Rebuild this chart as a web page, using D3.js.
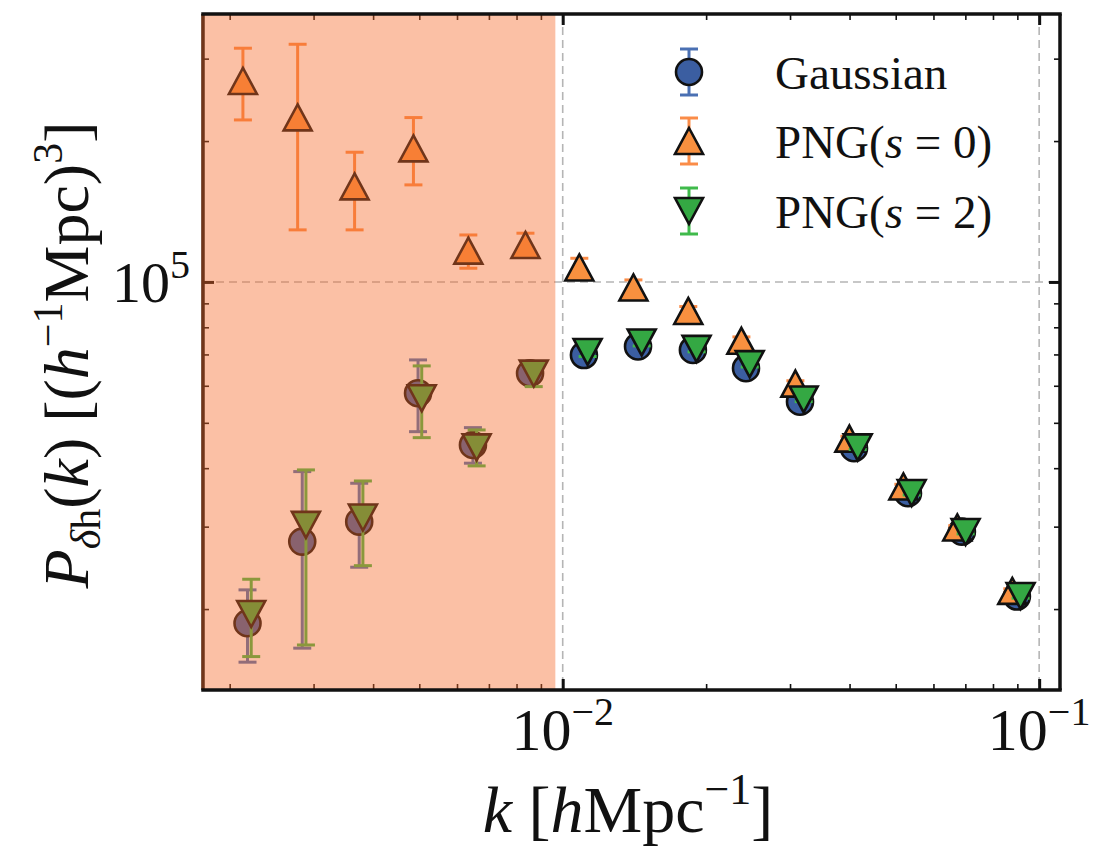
<!DOCTYPE html>
<html>
<head>
<meta charset="utf-8">
<script src="https://cdn.jsdelivr.net/npm/d3@7"></script>
<style>
  body { margin: 0; background: #fff; }
  text { font-family: "Liberation Serif", "DejaVu Serif", serif; fill: #111; }
</style>
</head>
<body>
<div id="chart"></div>
<script>
// data
var kBins = [0.00218, 0.00284, 0.00374, 0.00497, 0.00648, 0.00854, 0.01108, 0.01439, 0.01876, 0.02425, 0.03148, 0.04087, 0.05305, 0.06884, 0.0898];

var gauss   = [18650, 27870, 30750, 57840, 44840, 63810, 69800, 72800, 71560, 65420, 55480, 44130, 35360, 29270, 21270];
var gaussLo = [15400, 16500, 24570, 47870, 40990, 61200, 68500, 71600, 70500, 64500, 54800, 43650, 35000, 28950, 21050];
var gaussHi = [21980, 39330, 37140, 68140, 48830, 66500, 71100, 74000, 72600, 66300, 56150, 44600, 35700, 29600, 21500];

var png0   = [268800, 224700, 160000, 192900, 116650, 119970, 107400, 97320, 86700, 74870, 60640, 46270, 36560, 29880, 21870];
var png0Lo = [221900, 129200, 129200, 161200, 106970, 113600, 102800, 93900, 84900, 73500, 59800, 45750, 36150, 29600, 21650];
var png0Hi = [315800, 322000, 189300, 224500, 126000, 127100, 112350, 101000, 88600, 76300, 61500, 46800, 36950, 30150, 22100];

var png2   = [19520, 30260, 31380, 56420, 44300, 63700, 70850, 74250, 71930, 66730, 56100, 44300, 35400, 29220, 21330];
var png2Lo = [15830, 16760, 24760, 46480, 40450, 59750, 69300, 73000, 70900, 65800, 55500, 43850, 35050, 28950, 21100];
var png2Hi = [23160, 39660, 37560, 66160, 48280, 66900, 72400, 75500, 73000, 67600, 56700, 44750, 35750, 29500, 21560];

var xMajor = [0.01, 0.1];
var xMinor = [0.002, 0.003, 0.004, 0.005, 0.006, 0.007, 0.008, 0.009,
              0.02, 0.03, 0.04, 0.05, 0.06, 0.07, 0.08, 0.09];
var yMajor = [1e5];
var yMinor = [2e4, 3e4, 4e4, 5e4, 6e4, 7e4, 8e4, 9e4, 2e5, 3e5];
var shadeMaxK = 0.00965;

// set the dimensions and margins of the graph
var margin = {top: 14, right: 40, bottom: 159, left: 203},
    width = 1060 - margin.left,
    height = 690 - margin.top;

var svg = d3.select("#chart")
    .append("svg")
    .attr("width", 1100)
    .attr("height", 849)
    .append("g")
    .attr("transform", "translate(" + margin.left + "," + margin.top + ")");

var x = d3.scaleLog().domain([0.001758, 0.1106]).range([0, width]);
var y = d3.scaleLog().domain([13430, 373700]).range([height, 0]);

// dashed grid
var grid = svg.append("g");
xMajor.forEach(function (v) {
    grid.append("line").attr("x1", x(v)).attr("x2", x(v)).attr("y1", 0).attr("y2", height);
});
yMajor.forEach(function (v) {
    grid.append("line").attr("x1", 0).attr("x2", width).attr("y1", y(v)).attr("y2", y(v));
});
grid.selectAll("line")
    .attr("stroke", "#b5b5b5")
    .attr("stroke-width", 1.6)
    .attr("stroke-dasharray", "8,5");

var series = [
    {name: "Gaussian", vals: gauss, lo: gaussLo, hi: gaussHi, dodge: 1.0, fill: "#3b5ea1", err: "#4a70b3", shape: "circle"},
    {name: "png0", vals: png0, lo: png0Lo, hi: png0Hi, dodge: 0.978, fill: "#f8903f", err: "#fa8c48", shape: "up"},
    {name: "png2", vals: png2, lo: png2Lo, hi: png2Hi, dodge: 1.018, fill: "#34a843", err: "#3fba4b", shape: "down"}
];

var capW = 9;
var triUp = "M0,-13L14,13L-14,13Z";
var triDown = "M0,13L14,-13L-14,-13Z";

function drawMarker(g, s, cx, cy) {
    if (s.shape === "circle") {
        g.append("circle").attr("cx", cx).attr("cy", cy).attr("r", 13);
    } else {
        g.append("path").attr("d", s.shape === "up" ? triUp : triDown)
            .attr("transform", "translate(" + cx + "," + cy + ")");
    }
    g.selectAll("circle,path").attr("fill", s.fill).attr("stroke", "#111").attr("stroke-width", 2.6)
        .attr("stroke-linejoin", "miter");
}

function drawErr(g, s, cx, y1, y2) {
    g.append("line").attr("x1", cx).attr("x2", cx).attr("y1", y1).attr("y2", y2);
    g.append("line").attr("x1", cx - capW).attr("x2", cx + capW).attr("y1", y1).attr("y2", y1);
    g.append("line").attr("x1", cx - capW).attr("x2", cx + capW).attr("y1", y2).attr("y2", y2);
    g.selectAll("line").attr("stroke", s.err).attr("stroke-width", 3);
}

var dataLayer = svg.append("g");
series.forEach(function (s) {
    var eg = dataLayer.append("g");
    kBins.forEach(function (k, i) {
        drawErr(eg.append("g"), s, x(k * s.dodge), y(s.hi[i]), y(s.lo[i]));
    });
    var mg = dataLayer.append("g");
    kBins.forEach(function (k, i) {
        drawMarker(mg.append("g"), s, x(k * s.dodge), y(s.vals[i]));
    });
});

// ticks (inward, all four sides)
function styleAxis(g, w) {
    g.select(".domain").remove();
    g.selectAll("line").attr("stroke", "#111").attr("stroke-width", w);
    g.selectAll("text").remove();
}
svg.append("g").attr("transform", "translate(0," + height + ")")
    .call(d3.axisBottom(x).tickValues(xMinor).tickSize(-6).tickFormat("")).call(styleAxis, 1.6);
svg.append("g").attr("transform", "translate(0," + height + ")")
    .call(d3.axisBottom(x).tickValues(xMajor).tickSize(-11).tickFormat("")).call(styleAxis, 3);
svg.append("g")
    .call(d3.axisTop(x).tickValues(xMinor).tickSize(-6).tickFormat("")).call(styleAxis, 1.6);
svg.append("g")
    .call(d3.axisTop(x).tickValues(xMajor).tickSize(-11).tickFormat("")).call(styleAxis, 3);
svg.append("g").attr("transform", "translate(" + width + ",0)")
    .call(d3.axisRight(y).tickValues(yMinor).tickSize(-6).tickFormat("")).call(styleAxis, 1.6);
svg.append("g").attr("transform", "translate(" + width + ",0)")
    .call(d3.axisRight(y).tickValues(yMajor).tickSize(-11).tickFormat("")).call(styleAxis, 3);

var leftG = svg.append("g");
leftG.append("g").call(d3.axisLeft(y).tickValues(yMinor).tickSize(-6).tickFormat("")).call(styleAxis, 1.6);
leftG.append("g").call(d3.axisLeft(y).tickValues(yMajor).tickSize(-11).tickFormat("")).call(styleAxis, 3);
leftG.append("line").attr("x1", 0).attr("x2", 0).attr("y1", 0).attr("y2", height)
    .attr("stroke", "#111").attr("stroke-width", 3.5);

// shaded k-range, laid over the points
svg.append("rect")
    .attr("x", -1.75)
    .attr("y", 0)
    .attr("width", x(shadeMaxK) + 1.75)
    .attr("height", height)
    .attr("fill", "rgb(245,105,41)")
    .attr("opacity", 0.42);

// remaining spines
[[0, 0, width, 0], [0, height, width, height], [width, 0, width, height]].forEach(function (l) {
    svg.append("line").attr("x1", l[0] - (l[1] === l[3] ? 1.75 : 0)).attr("y1", l[1])
        .attr("x2", l[2] + (l[1] === l[3] ? 1.75 : 0)).attr("y2", l[3])
        .attr("stroke", "#111").attr("stroke-width", 3.5);
});

// tick labels
var xLabs = [{v: 0.01, e: "\u22122"}, {v: 0.1, e: "\u22121"}];
xLabs.forEach(function (d) {
    var t = svg.append("text")
        .attr("x", x(d.v))
        .attr("y", height + 60)
        .attr("text-anchor", "middle")
        .style("font-size", "60px");
    t.append("tspan").text("10");
    t.append("tspan").attr("dy", -25).style("font-size", "40px").text(d.e);
});
var yl = svg.append("text")
    .attr("x", -13)
    .attr("y", y(1e5) + 20)
    .attr("text-anchor", "end")
    .style("font-size", "58px");
yl.append("tspan").text("10");
yl.append("tspan").attr("dy", -24).style("font-size", "40px").text("5");

// axis labels
var xl = svg.append("text")
    .attr("x", 628 - margin.left)
    .attr("y", 832 - margin.top)
    .attr("text-anchor", "middle")
    .style("font-size", "66px");
xl.append("tspan").style("font-style", "italic").text("k");
xl.append("tspan").text(" [");
xl.append("tspan").style("font-style", "italic").text("h");
xl.append("tspan").text("Mpc");
xl.append("tspan").attr("dy", -28).style("font-size", "44px").text("\u22121");
xl.append("tspan").attr("dy", 28).text("]");

var ylab = svg.append("text")
    .attr("transform", "translate(" + (88 - margin.left) + "," + (355 - margin.top) + ") rotate(-90)")
    .attr("text-anchor", "middle")
    .style("font-size", "64px");
ylab.append("tspan").style("font-style", "italic").text("P");
ylab.append("tspan").attr("dy", 12).style("font-size", "42px").style("font-style", "italic").text("\u03b4");
ylab.append("tspan").style("font-size", "42px").text("h");
ylab.append("tspan").attr("dy", -12).text("(");
ylab.append("tspan").style("font-style", "italic").text("k");
ylab.append("tspan").text(")  [(");
ylab.append("tspan").style("font-style", "italic").text("h");
ylab.append("tspan").attr("dy", -26).style("font-size", "42px").text("\u22121");
ylab.append("tspan").attr("dy", 26).text("Mpc)");
ylab.append("tspan").attr("dy", -26).style("font-size", "42px").text("3");
ylab.append("tspan").attr("dy", 26).text("]");

// legend
var legend = svg.append("g").attr("transform", "translate(" + (689 - margin.left) + "," + (72 - margin.top) + ")");
var legendRows = [
    {s: series[0], parts: [["Gaussian", false]]},
    {s: series[1], parts: [["PNG(", false], ["s", true], [" = 0)", false]]},
    {s: series[2], parts: [["PNG(", false], ["s", true], [" = 2)", false]]}
];
var rowY = [0, 69, 139];
legendRows.forEach(function (r, i) {
    var g = legend.append("g").attr("transform", "translate(0," + rowY[i] + ")");
    drawErr(g.append("g"), r.s, 0, -23, 23);
    drawMarker(g.append("g"), r.s, 0, 0);
    var t = g.append("text").attr("x", 86).attr("y", 17).style("font-size", "47px");
    r.parts.forEach(function (p) {
        t.append("tspan").style("font-style", p[1] ? "italic" : "normal").text(p[0]);
    });
});
</script>
</body>
</html>
